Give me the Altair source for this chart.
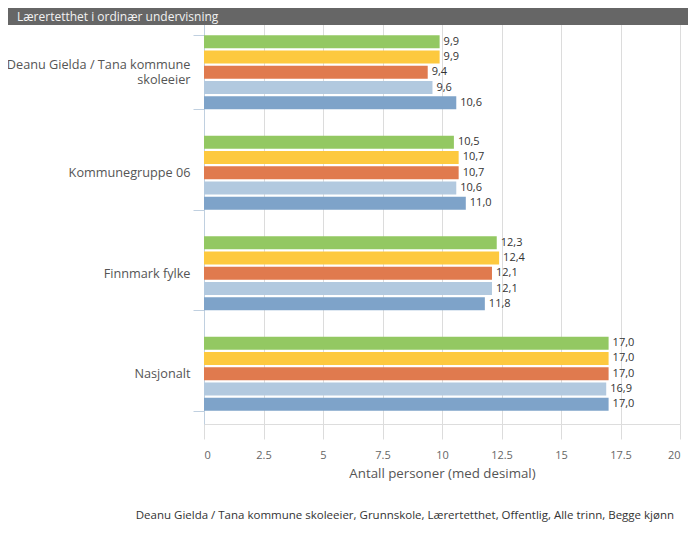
import altair as alt
import pandas as pd

categories = ["Deanu Gielda / Tana kommune skoleeier", "Kommunegruppe 06", "Finnmark fylke", "Nasjonalt"]
series = ["S1", "S2", "S3", "S4", "S5"]
colors = ["#93c862", "#fdc93f", "#e07a4e", "#b2c9df", "#7ea3c9"]
values = {
    "S1": [9.9, 10.5, 12.3, 17.0],
    "S2": [9.9, 10.7, 12.4, 17.0],
    "S3": [9.4, 10.7, 12.1, 17.0],
    "S4": [9.6, 10.6, 12.1, 16.9],
    "S5": [10.6, 11.0, 11.8, 17.0],
}
x_ticks = [0, 2.5, 5, 7.5, 10, 12.5, 15, 17.5, 20]
title_text = "Lærertetthet i ordinær undervisning"
x_title = "Antall personer (med desimal)"
footnote = "Deanu Gielda / Tana kommune skoleeier, Grunnskole, Lærertetthet, Offentlig, Alle trinn, Begge kjønn"

rows = []
for s in series:
    for c, v in zip(categories, values[s]):
        rows.append({"cat": c, "series": s, "v": v})
df = pd.DataFrame(rows)

FONT = "Open Sans"

y_enc = alt.Y(
    "cat:N",
    sort=categories,
    scale=alt.Scale(paddingInner=0.264, paddingOuter=0.132),
    axis=alt.Axis(
        title=None,
        tickBand="extent",
        tickSize=11,
        tickColor="#c0d0e0",
        domainColor="#c0d0e0",
        labelPadding=3,
        labelFontSize=12.7,
        labelColor="#555555",
        labelFont=FONT,
        labelLineHeight=15,
        labelLimit=300,
        grid=False,
        labelOffset=alt.ExprRef("datum.value == 'Deanu Gielda / Tana kommune skoleeier' ? -7.5 : 0"),
        labelExpr="datum.label == 'Deanu Gielda / Tana kommune skoleeier' ? ['Deanu Gielda / Tana kommune', 'skoleeier'] : datum.label",
    ),
)
yoff = alt.YOffset("series:N", sort=series, scale=alt.Scale(paddingInner=0.15, paddingOuter=0))
x_enc = alt.X(
    "v:Q",
    scale=alt.Scale(domain=[0, 20], nice=False),
    axis=alt.Axis(
        values=x_ticks,
        format=".1~f",
        title=x_title,
        titleFont=FONT,
        titleFontSize=13.3,
        titleFontWeight="normal",
        titleColor="#555555",
        titlePadding=6,
        labelFont=FONT,
        labelFontSize=11,
        labelColor="#666666",
        labelPadding=10,
        tickSize=15,
        tickColor="#dcdcdc",
        domain=False,
        grid=True,
        gridColor="#dcdcdc",
    ),
)

base = alt.Chart(df)
bars = base.mark_bar().encode(
    x=x_enc,
    y=y_enc,
    yOffset=yoff,
    color=alt.Color("series:N", sort=series, scale=alt.Scale(domain=series, range=colors), legend=None),
)
labels = base.transform_calculate(
    lab="replace(format(datum.v, '.1f'), '.', ',')"
).mark_text(align="left", baseline="middle", dx=4, fontSize=11, font=FONT, color="#333333").encode(
    x="v:Q",
    y=alt.Y("cat:N", sort=categories),
    yOffset=alt.YOffset("series:N", sort=series),
    text="lab:N",
)

one = pd.DataFrame({"t": [title_text], "f": [footnote]})
bar_bg = alt.Chart(one).mark_rect(color="#666666").encode(
    x=alt.value(-196), x2=alt.value(484), y=alt.value(-14), y2=alt.value(3)
)
bar_txt = alt.Chart(one).mark_text(align="left", baseline="middle", fontSize=12, font=FONT, color="#f2f2f2").encode(
    x=alt.value(-187), y=alt.value(-5.5), text="t:N"
)
foot = alt.Chart(one).mark_text(align="right", baseline="middle", fontSize=11.5, font=FONT, color="#333333").encode(
    x=alt.value(470), y=alt.value(494), text="f:N"
)

chart = alt.layer(bars, labels, bar_bg, bar_txt, foot).properties(
    width=476,
    height=402,
    autosize=alt.AutoSizeParams(type="none"),
    padding={"left": 196, "top": 14, "right": 9, "bottom": 116},
).configure_view(stroke=None).configure(background="white")

chart.save("out.html", embed_options={"renderer": "svg", "actions": False})
